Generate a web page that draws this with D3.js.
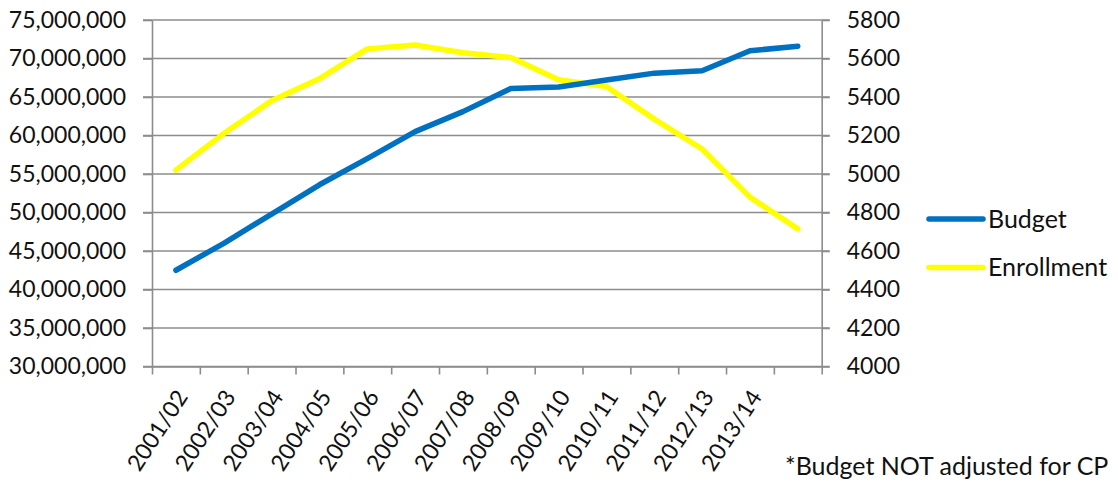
<!DOCTYPE html>
<html>
<head>
<meta charset="utf-8">
<script src="https://cdn.jsdelivr.net/npm/d3@7"></script>
<style>
  html, body { margin: 0; padding: 0; background: #fff; overflow: hidden; }
  svg { display: block; }
  text { font-family: Lato, "Open Sans", sans-serif; fill: #111; }
</style>
</head>
<body>
<svg id="chart" width="1118" height="483"></svg>
<script>
// School years (the last period has no printed label)
const categories = ["2001/02","2002/03","2003/04","2004/05","2005/06","2006/07","2007/08",
                    "2008/09","2009/10","2010/11","2011/12","2012/13","2013/14",""];
// Annual budget in dollars (left axis)
const budget = [42500000, 46000000, 49800000, 53600000, 57000000, 60500000, 63100000,
                66100000, 66300000, 67200000, 68100000, 68400000, 71000000, 71600000];
// Student enrollment (right axis)
const enrollment = [5020, 5210, 5380, 5495, 5650, 5670, 5630,
                    5605, 5490, 5455, 5285, 5130, 4880, 4715];
const budgetTicks = [30000000, 35000000, 40000000, 45000000, 50000000, 55000000,
                     60000000, 65000000, 70000000, 75000000];
const enrollTicks = [4000, 4200, 4400, 4600, 4800, 5000, 5200, 5400, 5600, 5800];
const seriesNames = ["Budget", "Enrollment"];
const seriesColors = ["#0070C0", "#FFFF00"];

const svg = d3.select("#chart");
const plotLeft = 152, plotRight = 821.7, plotTop = 20, plotBottom = 366.5;
const gridColor = "#8c8c8c";
const fontSize = 23;
const textSize = 25;

const x = d3.scaleBand().domain(categories).range([plotLeft, plotRight]).padding(0);
const xEdge = d3.scaleLinear().domain([0, categories.length]).range([plotLeft, plotRight]);
const yL = d3.scaleLinear().domain([30000000, 75000000]).range([plotBottom, plotTop]);
const yR = d3.scaleLinear().domain([4000, 5800]).range([plotBottom, plotTop]);

// horizontal gridlines, running through the outer tick marks on both sides
svg.append("g").selectAll("line").data(budgetTicks).join("line")
  .attr("x1", plotLeft - 9).attr("x2", plotRight + 8)
  .attr("y1", d => yL(d)).attr("y2", d => yL(d))
  .attr("stroke", gridColor).attr("stroke-width", 1.4);

// left value axis
const axL = svg.append("g").attr("transform", `translate(${plotLeft},0)`)
  .call(d3.axisLeft(yL).tickValues(budgetTicks).tickFormat(d3.format(",")).tickSize(9).tickPadding(17).tickSizeOuter(0));
// right value axis
const axR = svg.append("g").attr("transform", `translate(${plotRight},0)`)
  .call(d3.axisRight(yR).tickValues(enrollTicks).tickFormat(d3.format("d")).tickSize(8).tickPadding(17).tickSizeOuter(0));
// category axis: tick marks between periods
const axB = svg.append("g").attr("transform", `translate(0,${plotBottom})`)
  .call(d3.axisBottom(xEdge).tickValues(d3.range(categories.length + 1)).tickFormat("").tickSize(8).tickSizeOuter(0));

[axL, axR, axB].forEach(g => {
  g.selectAll("path.domain").attr("stroke", gridColor).attr("stroke-width", 1.6);
  g.selectAll(".tick line").attr("stroke", gridColor).attr("stroke-width", 1.6);
  g.selectAll(".tick text").style("font-family", "Lato, 'Open Sans', sans-serif")
    .style("font-size", fontSize + "px").attr("fill", "#111");
});

// rotated period labels
const angle = -57;
svg.append("g").selectAll("text").data(categories.filter(c => c !== "")).join("text")
  .attr("transform", d => `translate(${x(d) + x.bandwidth() / 2 + 6},${plotBottom + 26}) rotate(${angle})`)
  .attr("text-anchor", "end")
  .attr("dy", "0.35em")
  .style("font-size", fontSize + "px")
  .text(d => d);

// series lines
const lineL = d3.line().x((d, i) => x(categories[i]) + x.bandwidth() / 2).y(d => yL(d));
const lineR = d3.line().x((d, i) => x(categories[i]) + x.bandwidth() / 2).y(d => yR(d));

svg.append("path").datum(enrollment).attr("d", lineR)
  .attr("fill", "none").attr("stroke", seriesColors[1]).attr("stroke-width", 5.5)
  .attr("stroke-linecap", "round").attr("stroke-linejoin", "round");
svg.append("path").datum(budget).attr("d", lineL)
  .attr("fill", "none").attr("stroke", seriesColors[0]).attr("stroke-width", 5.5)
  .attr("stroke-linecap", "round").attr("stroke-linejoin", "round");

// legend
const legend = svg.append("g").selectAll("g").data(seriesNames).join("g")
  .attr("transform", (d, i) => `translate(929,${219 + i * 48.5})`);
legend.append("line").attr("x1", 0).attr("x2", 54).attr("y1", 0).attr("y2", 0)
  .attr("stroke", (d, i) => seriesColors[i]).attr("stroke-width", 5.5).attr("stroke-linecap", "round");
legend.append("text").attr("x", 59).attr("dy", "0.35em")
  .style("font-size", textSize + "px").text(d => d);

// footnote
svg.append("text").attr("x", 785).attr("y", 475)
  .style("font-size", textSize + "px")
  .text("*Budget NOT adjusted for CP");
</script>
</body>
</html>
